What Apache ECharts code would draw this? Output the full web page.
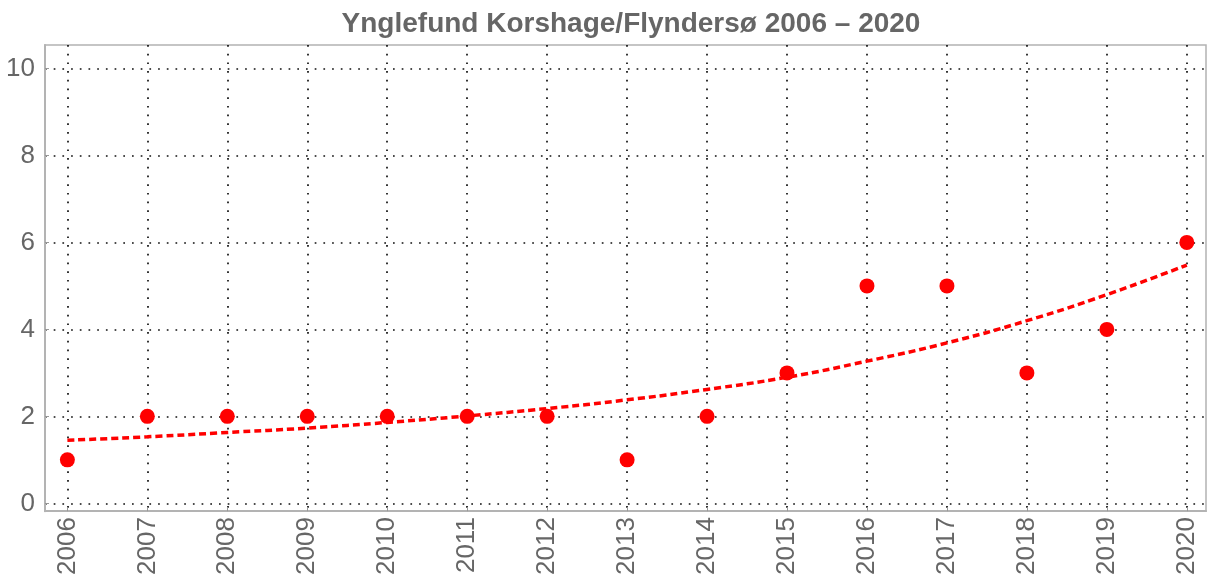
<!DOCTYPE html>
<html lang="da">

<head>
    <meta charset="UTF-8">
    <title>Ynglefund Korshage/Flyndersø</title>
    <script type="text/javascript" src="https://cdn.jsdelivr.net/npm/echarts@6/dist/echarts.min.js"></script>
    <style>
        body {
            margin: 0;
            background-color: #fff;
            overflow: hidden;
        }
    </style>
</head>

<body>
    <div style="width: 1208px; height: 578px" id="container"></div>
</body>
<script>
    // data
    let years = [2006, 2007, 2008, 2009, 2010, 2011, 2012, 2013, 2014, 2015, 2016, 2017, 2018, 2019, 2020];
    let counts = [1, 2, 2, 2, 2, 2, 2, 1, 2, 3, 5, 5, 3, 4, 6];
    let trend = [1.45, 1.53, 1.63, 1.73, 1.86, 2.01, 2.18, 2.38, 2.62, 2.9, 3.27, 3.69, 4.2, 4.8, 5.48];
    let yTicks = [0, 2, 4, 6, 8, 10];

    let title = 'Ynglefund Korshage/Flyndersø 2006 – 2020';
    let gray = '#666666';
    let dotted = {
        color: '#111',
        width: 1.7,
        type: [1.7, 7]
    };

    var dom = document.getElementById("container");
    var myChart = echarts.init(dom);

    var option = {
        backgroundColor: '#fff',
        animation: false,
        title: {
            text: title,
            left: 626,
            textAlign: 'center',
            top: 5,
            textStyle: {
                fontFamily: 'Liberation Sans',
                fontSize: 28,
                fontWeight: 'bold',
                color: gray
            }
        },
        grid: {
            left: 45,
            right: 2,
            top: 45,
            bottom: 65,
            show: true,
            borderColor: '#b3b3b3',
            borderWidth: 1.5
        },
        xAxis: {
            type: 'value',
            min: 2005.72,
            max: 2020.24,
            axisLine: {
                onZero: false,
                lineStyle: { color: '#b3b3b3', width: 2 }
            },
            axisTick: {
                customValues: years,
                inside: true,
                length: 4,
                lineStyle: { color: '#999' }
            },
            axisLabel: {
                customValues: years,
                rotate: 90,
                margin: 6,
                fontFamily: 'Liberation Sans',
                fontSize: 26,
                color: gray,
                formatter: v => String(Math.round(v))
            },
            splitLine: {
                show: true,
                lineStyle: dotted
            }
        },
        yAxis: {
            type: 'value',
            min: -0.18,
            max: 10.54,
            axisLine: {
                show: true,
                onZero: false,
                lineStyle: { color: '#b3b3b3', width: 2 }
            },
            axisTick: {
                show: true,
                customValues: yTicks,
                inside: true,
                length: 4,
                lineStyle: { color: '#999' }
            },
            axisLabel: {
                customValues: yTicks,
                margin: 10,
                fontFamily: 'Liberation Sans',
                fontSize: 26,
                color: gray
            },
            splitLine: {
                show: true,
                lineStyle: dotted
            }
        },
        series: [{
            name: 'trend',
            type: 'line',
            data: years.map((y, i) => [y, trend[i]]),
            smooth: true,
            showSymbol: false,
            lineStyle: {
                color: '#ff0000',
                width: 3.5,
                type: [7, 4]
            },
            z: 3
        }, {
            name: 'fund',
            type: 'scatter',
            data: years.map((y, i) => [y, counts[i]]),
            symbolSize: 15,
            itemStyle: {
                color: '#ff0000',
                opacity: 1
            },
            z: 4
        }]
    };
    if (option && typeof option === 'object') {
        myChart.setOption(option);
    }
</script>

</html>
